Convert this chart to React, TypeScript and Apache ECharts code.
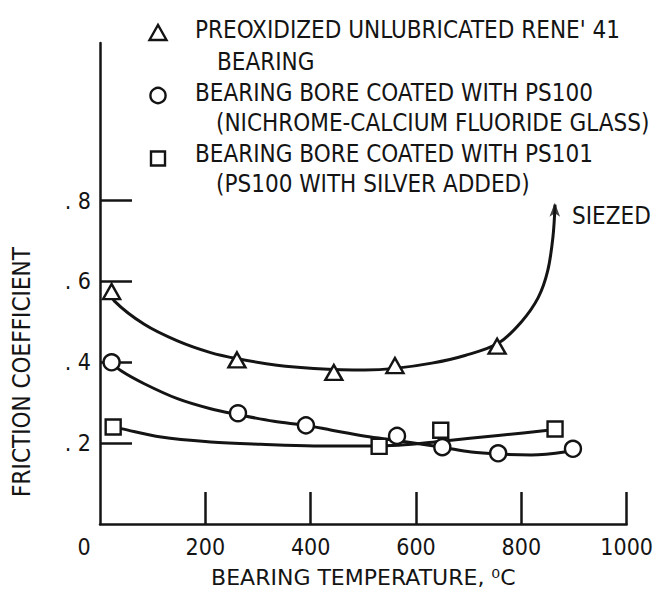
import React, { useEffect, useRef } from "react";
import * as echarts from "echarts";

// ---------- data ----------
// measured points (bearing temperature, °C ; friction coefficient)
const triX = [22, 260, 444, 560, 754];
const triY = [0.575, 0.406, 0.375, 0.392, 0.44];
const circX = [22, 262, 391, 564, 650, 756, 898];
const circY = [0.4, 0.274, 0.244, 0.218, 0.19, 0.175, 0.186];
const sqX = [25, 530, 647, 864];
const sqY = [0.24, 0.192, 0.232, 0.235];

// faired curves
const triCurveX = [22, 27, 84, 147, 210, 261, 336, 406, 503, 560, 630, 693, 756, 800, 832, 850, 860, 864];
const triCurveY = [0.575, 0.552, 0.494, 0.453, 0.424, 0.409, 0.393, 0.385, 0.381, 0.385, 0.398, 0.417, 0.447, 0.5, 0.56, 0.626, 0.71, 0.79];
const circCurveX = [22, 40, 84, 147, 210, 261, 330, 391, 440, 504, 567, 650, 705, 756, 819, 885];
const circCurveY = [0.4, 0.379, 0.347, 0.31, 0.285, 0.271, 0.254, 0.244, 0.232, 0.217, 0.206, 0.19, 0.178, 0.173, 0.171, 0.179];
const sqCurveX = [25, 40, 116, 210, 305, 406, 504, 567, 649, 756, 851, 864];
const sqCurveY = [0.24, 0.236, 0.215, 0.203, 0.197, 0.193, 0.193, 0.195, 0.205, 0.219, 0.232, 0.235];

// "siezed" arrow head
const seizedX = [863.5];
const seizedY = [0.795];

// axes
const xTickValues = [200, 400, 600, 800, 1000];
const xLabelValues = [0, 200, 400, 600, 800, 1000];
const yTickValues = [0.2, 0.4, 0.6, 0.8];

const legendLines = [
  "PREOXIDIZED UNLUBRICATED RENE' 41",
  "BEARING",
  "BEARING BORE COATED WITH PS100",
  "(NICHROME-CALCIUM FLUORIDE GLASS)",
  "BEARING BORE COATED WITH PS101",
  "(PS100 WITH SILVER ADDED)",
];
const xAxisTitle = "BEARING TEMPERATURE, \u2070C";
const yAxisTitle = "FRICTION COEFFICIENT";
const seizedText = "SIEZED";

const FONT = "'DejaVu Sans Condensed', 'Liberation Sans Narrow', 'DejaVu Sans', sans-serif";
const WIDE = "'DejaVu Sans', 'Liberation Sans', sans-serif";
const INK = "#141414";

const zip = (xs: number[], ys: number[]) => xs.map((x, i) => [x, ys[i]]);

export default function App() {
  const ref = useRef<HTMLDivElement>(null);

  useEffect(() => {
    if (!ref.current) return;
    const chart = echarts.init(ref.current, undefined, { renderer: "svg" });

    const lineSeries = (data: number[][]) => ({
      type: "line",
      data,
      smooth: 0.35,
      symbol: "none",
      showSymbol: false,
      silent: true,
      lineStyle: { color: INK, width: 3 },
      z: 2,
    });
    const markerSeries = (data: number[][], symbol: string, size: any) => ({
      type: "scatter",
      data,
      symbol,
      symbolSize: size,
      silent: true,
      itemStyle: { color: "#fff", borderColor: INK, borderWidth: 2.4, opacity: 1 },
      z: 4,
    });

    const textStyle = (x: number, y: number, text: string, size = 24) => ({
      type: "text",
      x,
      y,
      silent: true,
      style: {
        text,
        fontSize: size,
        fontFamily: FONT,
        fill: INK,
        align: "left",
        verticalAlign: "middle",
      },
    });

    const legendY = [30, 62, 92.5, 122.5, 154, 184];
    const legendX = [195, 217, 195, 216, 195, 216];

    const option: any = {
      animation: false,
      backgroundColor: "#ffffff",
      grid: { left: 100, right: 27, top: 43, bottom: 73 },
      xAxis: {
        type: "value",
        min: 0,
        max: 1000,
        interval: 200,
        name: xAxisTitle,
        nameLocation: "middle",
        nameGap: 42,
        nameTextStyle: { fontSize: 22, fontFamily: WIDE, color: INK },
        axisLine: { show: true, lineStyle: { color: INK, width: 2.5 } },
        axisTick: {
          show: true,
          inside: true,
          length: 32,
          customValues: xTickValues,
          lineStyle: { color: INK, width: 2.5 },
        },
        axisLabel: {
          show: true,
          customValues: xLabelValues,
          showMinLabel: true,
          showMaxLabel: true,
          margin: 11,
          fontSize: 23,
          fontFamily: FONT,
          color: INK,
          formatter: (v: number) => (v === 0 ? "{z|0}" : String(v)),
          rich: {
            z: { fontSize: 23, fontFamily: FONT, color: INK, padding: [0, 32, 0, 0] },
          },
        },
        splitLine: { show: false },
      },
      yAxis: {
        type: "value",
        min: 0,
        max: 1.19,
        axisLine: { show: true, lineStyle: { color: INK, width: 2.5 } },
        axisTick: {
          show: true,
          inside: true,
          length: 32,
          customValues: yTickValues,
          lineStyle: { color: INK, width: 2.5 },
        },
        axisLabel: {
          show: true,
          customValues: yTickValues,
          margin: 9,
          fontSize: 23,
          fontFamily: FONT,
          color: INK,
          formatter: (v: number) => ". " + Math.round(v * 10),
        },
        splitLine: { show: false },
      },
      graphic: [
        // legend markers
        {
          type: "polygon",
          silent: true,
          shape: { points: [[149.5, 40], [158, 25], [166.5, 40]] },
          style: { fill: "#fff", stroke: INK, lineWidth: 2.4 },
        },
        {
          type: "circle",
          silent: true,
          shape: { cx: 158, cy: 95.5, r: 7.6 },
          style: { fill: "#fff", stroke: INK, lineWidth: 2.4 },
        },
        {
          type: "rect",
          silent: true,
          shape: { x: 151, y: 151.5, width: 14, height: 14 },
          style: { fill: "#fff", stroke: INK, lineWidth: 2.4 },
        },
        ...legendLines.map((t, i) => textStyle(legendX[i], legendY[i], t)),
        textStyle(572, 216, seizedText),
        {
          type: "text",
          x: 22,
          y: 372,
          rotation: Math.PI / 2,
          silent: true,
          style: {
            text: yAxisTitle,
            fontSize: 24,
            fontFamily: FONT,
            fill: INK,
            align: "center",
            verticalAlign: "middle",
          },
        },
      ],
      series: [
        lineSeries(zip(triCurveX, triCurveY)),
        lineSeries(zip(circCurveX, circCurveY)),
        lineSeries(zip(sqCurveX, sqCurveY)),
        markerSeries(zip(triX, triY), "triangle", [17, 15]),
        markerSeries(zip(circX, circY), "circle", 16),
        markerSeries(zip(sqX, sqY), "rect", 15),
        {
          type: "scatter",
          data: zip(seizedX, seizedY),
          symbol: "arrow",
          symbolSize: [8, 14],
          silent: true,
          itemStyle: { color: INK },
          z: 5,
        },
      ],
    };

    chart.setOption(option);
    return () => chart.dispose();
  }, []);

  return (
    <div
      ref={ref}
      style={{ position: "fixed", left: 0, top: 0, width: 656, height: 597, background: "#fff" }}
    />
  );
}
